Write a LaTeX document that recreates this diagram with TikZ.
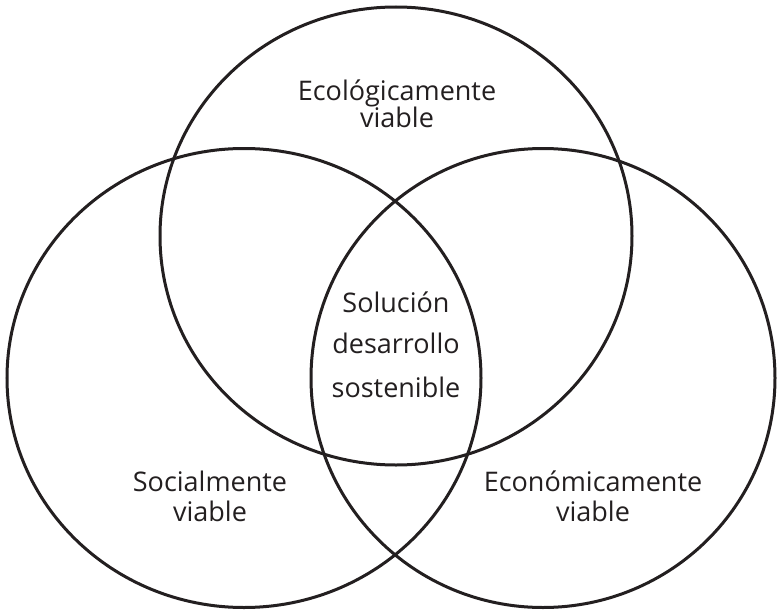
\documentclass[tikz,border=0pt]{standalone}
\usepackage{fontspec}
\setmainfont{Open Sans}
\definecolor{ink}{HTML}{231F20}
\begin{document}
\begin{tikzpicture}[x=1pt,y=-1pt,
  ring/.style={draw=ink,line width=3pt},
  lbl/.style={anchor=base,inner sep=0pt,text=ink,font=\fontsize{27}{30}\selectfont}]
\useasboundingbox (0,0) rectangle (777,610);
\draw[ring] (396,236) ellipse [x radius=236, y radius=229];
\draw[ring] (244,378) ellipse [x radius=237, y radius=229.5];
\draw[ring] (543,378) ellipse [x radius=232, y radius=229.5];
\node[lbl] (eco1) at (397,100) {Ecológicamente};
\node[lbl] (eco2) at (397,127) {viable};
\node[lbl] (sol1) at (396,312) {Solución};
\node[lbl] (sol2) at (396,353) {desarrollo};
\node[lbl] (sol3) at (396,397) {sostenible};
\node[lbl] (soc1) at (210,491) {Socialmente};
\node[lbl] (soc2) at (210,521) {viable};
\node[lbl] (ec1) at (593,491) {Económicamente};
\node[lbl] (ec2) at (593,521) {viable};
\end{tikzpicture}
\end{document}
